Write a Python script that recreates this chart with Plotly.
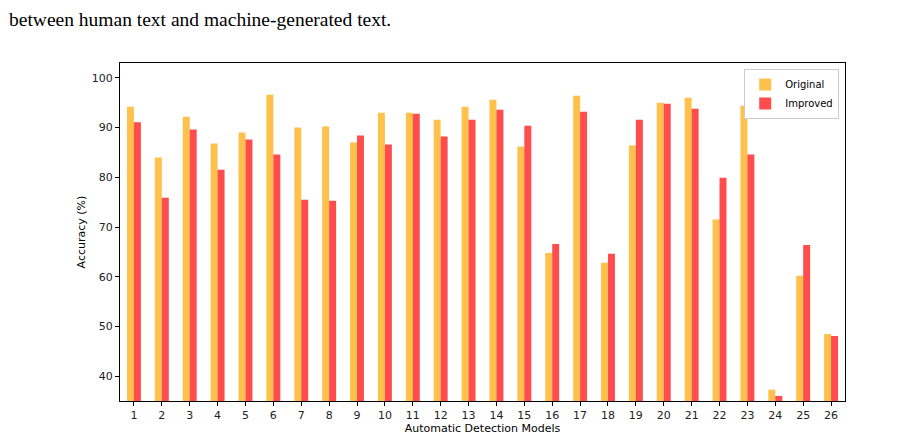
import plotly.graph_objects as go

# données
modeles = list(range(1, 27))
original = [94.2, 84.0, 92.2, 86.8, 89.0, 96.6, 90.0, 90.2, 87.0, 93.0,
            93.0, 91.6, 94.2, 95.6, 86.2, 64.8, 96.4, 62.8, 86.4, 95.0,
            96.0, 71.5, 94.4, 37.25, 60.2, 48.5]
improved = [91.1, 75.9, 89.6, 81.5, 87.6, 84.6, 75.5, 75.3, 88.4, 86.6,
            92.8, 88.2, 91.6, 93.6, 90.4, 66.6, 93.2, 64.6, 91.6, 94.8,
            93.8, 79.9, 84.6, 36.0, 66.4, 48.1]
ticks_y = [40, 50, 60, 70, 80, 90, 100]

fig = go.Figure()
fig.add_trace(go.Bar(x=modeles, y=original, name='Original',
                     marker=dict(color='rgba(255,165,0,0.7)', line_width=0)))
fig.add_trace(go.Bar(x=modeles, y=improved, name='Improved',
                     marker=dict(color='rgba(255,0,0,0.7)', line_width=0)))

axe = dict(showline=True, linecolor='black', linewidth=1, mirror=True,
           ticks='outside', ticklen=4, tickcolor='black', showgrid=False,
           zeroline=False, automargin=False, tickfont=dict(size=11, color='#222'))

# la page ajoute une marge de 8 px autour du graphique
fig.update_layout(
    width=907, height=431,
    margin=dict(l=112, r=70, t=55, b=38),
    paper_bgcolor='white', plot_bgcolor='white',
    font=dict(family='DejaVu Sans', size=11, color='black'),
    barmode='group', bargap=0.5, bargroupgap=0,
    xaxis=dict(axe, range=[0.5, 26.5], tickvals=modeles,
               title=dict(text='Automatic Detection Models', standoff=2,
                          font=dict(size=11))),
    yaxis=dict(axe, range=[35, 103], tickvals=ticks_y,
               title=dict(text='Accuracy (%)', standoff=3, font=dict(size=11))),
    legend=dict(x=0.992, y=0.982, xanchor='right', yanchor='top',
                bordercolor='#ccc', borderwidth=1, bgcolor='white',
                font=dict(size=10), tracegroupgap=0, itemwidth=30),
    showlegend=True,
)

fig.add_annotation(text='between human text and machine-generated text.',
                   xref='paper', yref='paper', x=-112/725, y=1 + 55/338,
                   xanchor='left', yanchor='top', showarrow=False, borderpad=0,
                   font=dict(family='Liberation Serif', size=19.5, color='black'))

fig.write_html('out.html')
